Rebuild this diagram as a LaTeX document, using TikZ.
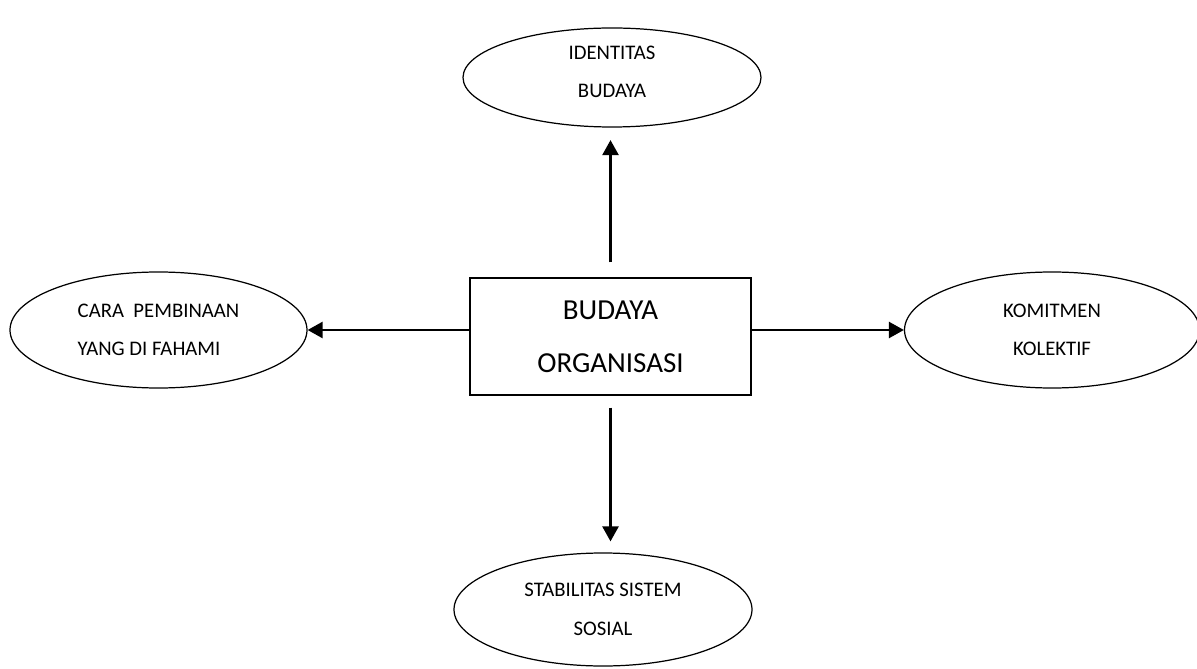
\documentclass[tikz,border=0pt]{standalone}
\usepackage{fontspec}
\setmainfont{Carlito}
\usetikzlibrary{shapes.geometric,arrows.meta}

\begin{document}
\begin{tikzpicture}[
	oval/.style={draw,ellipse,line width=0.7pt,minimum width=5.96cm,minimum height=2.1cm,inner sep=0pt,align=center,font=\fontsize{11.8}{22}\selectfont},
	kotak/.style={draw,rectangle,line width=0.8pt,minimum width=5.62cm,minimum height=2.34cm,align=center,font=\fontsize{16.5}{30}\selectfont},
	panah/.style={line width=1.4pt,-{Triangle[length=0.3cm,width=0.32cm]}}
]
		\useasboundingbox (0,0) rectangle (23.94,13.36);
		\node[kotak] (budaya) at (12.21,6.63) {BUDAYA\\ORGANISASI};
		\node[oval,minimum height=1.98cm] (identitas) at (12.24,11.81) {IDENTITAS\\BUDAYA\\[-0.54cm]};
		\node[oval,align=left,minimum width=5.94cm,minimum height=2.32cm] (cara) at (3.17,6.76) {CARA\ \ PEMBINAAN\\YANG DI FAHAMI};
		\node[oval,minimum width=5.9cm,minimum height=2.32cm] (komitmen) at (21.04,6.76) {KOMITMEN\\KOLEKTIF};
		\node[oval,minimum height=2.26cm] (sosial) at (12.06,1.17) {STABILITAS SISTEM\\SOSIAL};
		\draw[panah,shorten <=0.3cm,shorten >=0.25cm] (budaya.north) -- (budaya.north |- identitas.south);
		\draw[panah,shorten <=0.24cm,shorten >=0.22cm] (budaya.south) -- (budaya.south |- sosial.north);
		\draw[panah] (budaya.west |- cara.east) -- (cara.east);
		\draw[panah] (budaya.east |- komitmen.west) -- (komitmen.west);
	\end{tikzpicture}
\end{document}
